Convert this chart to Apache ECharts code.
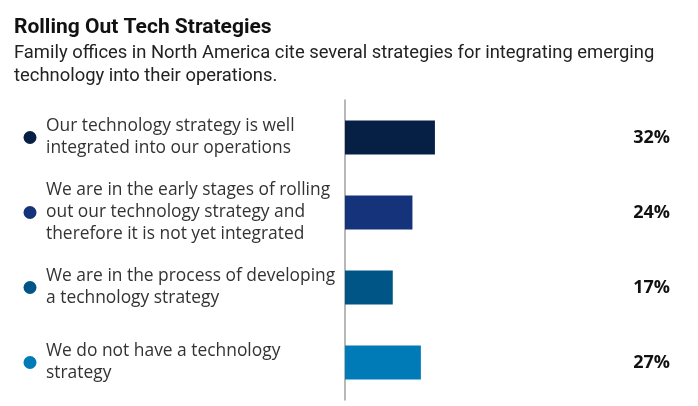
<!DOCTYPE html>
<html>
<head>
<meta charset="utf-8">
<script src="https://cdn.jsdelivr.net/npm/echarts@6/dist/echarts.min.js"></script>
<style>
  html, body { margin: 0; padding: 0; background: #fff; }
  #chart { width: 698px; height: 406px; }
</style>
</head>
<body>
<div id="chart"></div>
<script>
const categories = [
  "Our technology strategy is well\nintegrated into our operations",
  "We are in the early stages of rolling\nout our technology strategy and\ntherefore it is not yet integrated",
  "We are in the process of developing\na technology strategy",
  "We do not have a technology\nstrategy",
];
const values = [32, 24, 17, 27];
const colors = ["#061f45", "#14337a", "#005587", "#007bb8"];

const chart = echarts.init(document.getElementById("chart"), null, { renderer: "canvas" });

chart.setOption({
  backgroundColor: "#fff",
  animation: false,
  title: [
    {
      text: "Rolling Out Tech Strategies",
      left: 9,
      top: 12,
      textStyle: { fontFamily: "Roboto", fontWeight: "bold", fontSize: 21, color: "#111" },
    },
    {
      text: "Family offices in North America cite several strategies for integrating emerging\ntechnology into their operations.",
      left: 9,
      top: 37,
      textStyle: { fontFamily: "Roboto", fontWeight: "normal", fontSize: 18.4, lineHeight: 23, color: "#222" },
    },
  ],
  grid: [
    { left: 345, right: 72, top: 100, bottom: 6 },
    { left: 24, width: 12, top: 100, bottom: 6 },
  ],
  xAxis: [
    { type: "value", gridIndex: 0, min: 0, max: 100, show: false },
    { type: "value", gridIndex: 1, min: 0, max: 1, show: false },
  ],
  yAxis: [
    {
      type: "category",
      gridIndex: 0,
      inverse: true,
      data: categories,
      axisLine: { show: true, lineStyle: { color: "#a0a0a0", width: 1.5 } },
      axisTick: { show: false },
      axisLabel: {
        align: "left",
        margin: 299,
        fontFamily: "Open Sans",
        fontSize: 17.4,
        lineHeight: 22,
        color: "#333",
      },
    },
    {
      type: "category",
      gridIndex: 0,
      inverse: true,
      position: "right",
      data: values.map((v) => v + "%"),
      axisLine: { show: false },
      axisTick: { show: false },
      axisLabel: {
        align: "right",
        margin: 44,
        fontFamily: "Open Sans",
        fontWeight: "bold",
        fontSize: 18,
        color: "#111",
      },
    },
    {
      type: "category",
      gridIndex: 1,
      inverse: true,
      data: categories,
      show: false,
    },
  ],
  series: [
    {
      type: "bar",
      xAxisIndex: 0,
      yAxisIndex: 0,
      barWidth: 34,
      data: values.map((v, i) => ({ value: v, itemStyle: { color: colors[i] } })),
    },
    {
      type: "scatter",
      xAxisIndex: 1,
      yAxisIndex: 2,
      symbol: "circle",
      symbolSize: 13,
      itemStyle: { opacity: 1 },
      data: values.map((v, i) => ({ value: [0.5, i], itemStyle: { color: colors[i], opacity: 1 } })),
    },
  ],
});
</script>
</body>
</html>
